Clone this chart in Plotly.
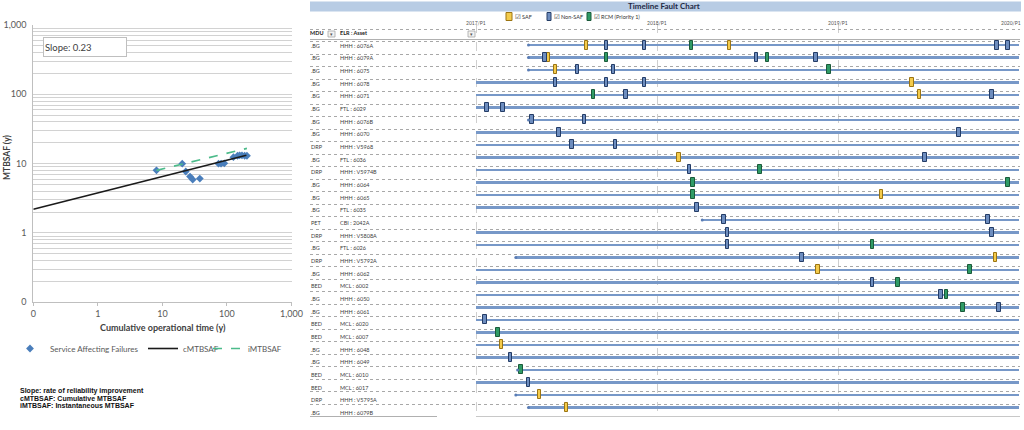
import plotly.graph_objects as go

W, H = 1024, 430


def fx(p):
    return p / W


def fy(p):
    return 1 - p / H


FONT = "Lato, 'Liberation Sans', sans-serif"

# ---------------- Left chart data (reliability growth, log-log) ----------------
saf_time = [8.1, 20.3, 23.0, 26.8, 29.5, 38.0, 74.0, 81.0, 91.0, 126.0, 146.0, 157.0, 171.0, 188.0, 204.0]
saf_mtbsaf = [8.0, 10.0, 7.7, 6.5, 5.9, 6.1, 10.0, 10.0, 10.1, 12.4, 13.0, 13.2, 13.2, 13.0, 13.0]
cmtbsaf_time = [0.1, 200.0]
cmtbsaf_value = [2.2, 13.2]
imtbsaf_time = [8.1, 204.0]
imtbsaf_value = [8.0, 16.6]
slope_value = 0.23
log_ticks = [0.1, 1, 10, 100, 1000]
log_tick_labels = ["0", "1", "10", "100", "1,000"]
notes = ["Slope: rate of reliability improvement",
         "cMTBSAF: Cumulative MTBSAF",
         "iMTBSAF: Instantaneous MTBSAF"]

# ---------------- Right chart data (timeline fault chart) ----------------
mdu = [".BG", ".BG", ".BG", ".BG", ".BG", ".BG", ".BG", ".BG", "DRP", ".BG",
       "DRP", ".BG", ".BG", ".BG", "PET", "DRP", ".BG", "DRP", ".BG", "BED",
       ".BG", ".BG", "BED", "BED", ".BG", ".BG", "BED", "BED", "DRP", ".BG"]
assets = ["HHH : 6076A", "HHH : 6079A", "HHH : 6075", "HHH : 6078", "HHH : 6071",
          "FTL : 6029", "HHH : 6076B", "HHH : 6070", "HHH : V5968", "FTL : 6036",
          "HHH : V5974B", "HHH : 6064", "HHH : 6065", "FTL : 6035", "CBI : 2042A",
          "HHH : V5808A", "FTL : 6026", "HHH : V5792A", "HHH : 6062", "MCL : 6002",
          "HHH : 6050", "HHH : 6061", "MCL : 6020", "MCL : 6007", "HHH : 6048",
          "HHH : 6049", "MCL : 6010", "MCL : 6017", "HHH : V5795A", "HHH : 6079B"]
obs_start = [2017.29, 2017.29, 2017.29, 2017.0, 2017.0, 2017.0, 2017.29, 2017.0, 2017.0, 2017.0,
             2017.0, 2017.0, 2017.0, 2017.0, 2018.25, 2017.0, 2017.0, 2017.22, 2017.0, 2017.0,
             2017.0, 2017.0, 2017.0, 2017.0, 2017.0, 2017.0, 2017.23, 2017.0, 2017.22, 2017.29]
obs_end = 2020.0

saf_rows = [0, 0, 1, 2, 3, 4, 9, 12, 17, 18, 24, 28, 29]
saf_times = [2017.61, 2018.40, 2017.40, 2017.44, 2019.41, 2019.45, 2018.12, 2019.24,
             2019.87, 2018.89, 2017.14, 2017.35, 2017.50]
nonsaf_rows = [0, 0, 0, 0, 1, 1, 1, 2, 2, 3, 3, 3, 4, 4, 5, 5, 6, 6, 7, 7, 8, 8, 9, 10,
               13, 14, 14, 15, 15, 16, 17, 19, 20, 21, 22, 25, 27]
nonsaf_times = [2017.72, 2017.93, 2019.88, 2019.94, 2017.38, 2018.55, 2018.88, 2017.56, 2017.76,
                2017.44, 2017.72, 2017.93, 2017.83, 2019.85, 2017.06, 2017.15, 2017.31, 2017.60,
                2017.46, 2019.67, 2017.53, 2017.77, 2019.48, 2018.18, 2018.22, 2018.37, 2019.83,
                2018.39, 2019.85, 2018.39, 2018.80, 2019.19, 2019.57, 2019.89, 2017.05, 2017.19,
                2017.29]
rcm_rows = [0, 1, 1, 2, 4, 10, 11, 11, 12, 16, 18, 19, 20, 21, 23, 26]
rcm_times = [2018.19, 2017.72, 2018.61, 2018.95, 2017.65, 2018.57, 2018.20, 2019.94, 2018.20,
             2019.19, 2019.73, 2019.33, 2019.60, 2019.69, 2017.12, 2017.25]

categories = ["SAF", "Non-SAF", "RCM (Priority 1)"]
cat_fill = ["#f3cb4c", "#6d8dbf", "#2f9b66"]
cat_edge = ["#9c7512", "#243c66", "#1b5a3a"]
period_ticks = [2017, 2018, 2019, 2020]
period_labels = ["2017/P1", "2018/P1", "2019/P1", "2020/P1"]

fig = go.Figure()

# ---------------- Left chart traces ----------------
fig.add_trace(go.Scatter(
    x=saf_time, y=saf_mtbsaf, mode="markers", name="Service Affecting Failures",
    marker=dict(symbol="diamond", size=6, color="#4a7ebb"),
    xaxis="x", yaxis="y", legendwidth=88))
fig.add_trace(go.Scatter(
    x=cmtbsaf_time, y=cmtbsaf_value, mode="lines", name="cMTBSAF",
    line=dict(color="#1a1a1a", width=1.6), xaxis="x", yaxis="y", legendwidth=20))
fig.add_trace(go.Scatter(
    x=imtbsaf_time, y=imtbsaf_value, mode="lines", name="iMTBSAF",
    line=dict(color="#4cbb8a", width=1.6, dash="dash"), xaxis="x", yaxis="y",
    legendwidth=40))

# ---------------- Right chart traces ----------------
rows = list(range(len(assets)))
fig.add_trace(go.Bar(
    orientation="h", y=rows, x=[obs_end - s for s in obs_start], base=obs_start,
    width=0.17, marker=dict(color="#7798c8", line=dict(width=0)),
    xaxis="x2", yaxis="y2", showlegend=False, hoverinfo="skip"))

EV_W = 0.02
for name, r, t, fc, ec in zip(categories,
                              [saf_rows, nonsaf_rows, rcm_rows],
                              [saf_times, nonsaf_times, rcm_times],
                              cat_fill, cat_edge):
    fig.add_trace(go.Bar(
        orientation="h", y=r, x=[EV_W] * len(t), base=[v - EV_W / 2 for v in t],
        width=0.72, marker=dict(color=fc, line=dict(color=ec, width=1)),
        name=name, xaxis="x2", yaxis="y2", showlegend=False))

late = [i for i, s in enumerate(obs_start) if s > period_ticks[0]]
fig.add_trace(go.Scatter(
    x=[obs_start[i] for i in late], y=late, mode="markers",
    marker=dict(size=3, color="#5a7db5"), xaxis="x2", yaxis="y2",
    showlegend=False, hoverinfo="skip"))

# ---------------- Axes ----------------
minor_vals, minor_text = [], []
for d in range(-1, 3):
    for k in range(1, 10):
        minor_vals.append(k * 10 ** d)
        minor_text.append(log_tick_labels[d + 1] if k == 1 else "")
minor_vals.append(log_ticks[-1])
minor_text.append(log_tick_labels[-1])

axis_font = dict(family=FONT, size=9, color="#595959")
PX_PER_YEAR = 181.0
x2_left = period_ticks[0] - (476 - 310) / PX_PER_YEAR
x2_right = period_ticks[0] + (1020 - 476) / PX_PER_YEAR

fig.update_layout(
    width=W, height=H, margin=dict(l=0, r=0, t=0, b=0, pad=0, autoexpand=False),
    paper_bgcolor="white", plot_bgcolor="white",
    barmode="overlay", bargap=0,
    font=dict(family=FONT),
    xaxis=dict(domain=[fx(33.3), fx(291.5)], type="log", range=[-1, 3], anchor="y",
               tickvals=log_ticks, ticktext=log_tick_labels, showgrid=False,
               showline=True, linecolor="#bfbfbf", ticks="outside", ticklen=3,
               tickcolor="#bfbfbf", tickfont=axis_font, zeroline=False, automargin=False),
    yaxis=dict(domain=[fy(302.3), fy(25)], type="log", range=[-1, 3], anchor="x",
               tickvals=minor_vals, ticktext=minor_text, showgrid=True,
               gridcolor="#d2d2d2", gridwidth=1, showline=True, linecolor="#bfbfbf",
               ticks="outside", ticklen=4, tickcolor="rgba(0,0,0,0)",
               tickfont=axis_font, zeroline=False, automargin=False),
    xaxis2=dict(domain=[fx(310), fx(1020)], range=[x2_left, x2_right], anchor="y2",
                tickvals=period_ticks, showticklabels=False, showgrid=True,
                griddash="dash", gridcolor="#cfcfcf", gridwidth=1, zeroline=False,
                showline=False, ticks="", automargin=False),
    yaxis2=dict(domain=[fy(416.7), fy(24)], range=[29.74, -1.68], anchor="x2",
                tickmode="linear", tick0=0.74, dtick=1, showticklabels=False,
                showgrid=True, griddash="dot", gridcolor="#a8a8a8", gridwidth=1,
                zeroline=False, showline=False, ticks="", automargin=False),
    legend=dict(orientation="h", x=fx(10), y=fy(348.5), xanchor="left", yanchor="middle",
                font=dict(family=FONT, size=8, color="#595959"),
                bgcolor="rgba(0,0,0,0)", itemwidth=30, tracegroupgap=0),
)

shapes = []
annotations = []


def note(text, x, y, size, color="#404040", xanchor="left", family=FONT, **kw):
    d = dict(text=text, xref="paper", yref="paper", x=fx(x), y=fy(y), xanchor=xanchor,
             yanchor="middle", showarrow=False, font=dict(family=family, size=size, color=color))
    d.update(kw)
    annotations.append(d)


# Left chart texts
annotations.append(dict(
    text=f"Slope: {slope_value:.2f}", xref="paper", yref="paper", x=fx(43), y=fy(37),
    xanchor="left", yanchor="top", width=80, height=16, align="left",
    showarrow=False, bordercolor="#bfbfbf", borderwidth=1, borderpad=1, bgcolor="white",
    font=dict(family=FONT, size=9.5, color="#404040")))
note("<b>MTBSAF (y)</b>", 7, 158, 8.5, xanchor="center", textangle=-90)
note("<b>Cumulative operational time (y)</b>", 163, 327, 9, xanchor="center")
for k, line in enumerate(notes):
    note(f"<b>{line}</b>", 18, 391 + 7.2 * k, 7, color="#111111",
         family="'Liberation Sans', sans-serif")

# Right chart: title bar
shapes.append(dict(type="rect", xref="paper", yref="paper", x0=fx(310), x1=fx(1021),
                   y0=fy(11.5), y1=fy(1.5), fillcolor="#b8cce4", line=dict(width=0),
                   layer="below"))
note("<b>Timeline Fault Chart</b>", 664, 6.5, 8, color="#1f2a44", xanchor="center")

# Right chart: legend (swatch + checkbox + label)
legend_x = [506, 547, 587]
swatch_w = [6, 4, 4]
for cx, sw, name, fc, ec in zip(legend_x, swatch_w, categories, cat_fill, cat_edge):
    shapes.append(dict(type="rect", xref="paper", yref="paper", x0=fx(cx), x1=fx(cx + sw),
                       y0=fy(20.5), y1=fy(12.5), fillcolor=fc, line=dict(color=ec, width=1)))
    note("\u2611", cx + sw + 0.5, 16.5, 6.5, color="#333333", family="'DejaVu Sans'")
    note(name, cx + sw + 8, 16.5, 5.5, color="#333333")

# Period labels (last one kept inside the page edge)
for t, lab in zip(period_ticks, period_labels):
    last = t == period_ticks[-1]
    annotations.append(dict(
        text=lab, xref="x2", yref="paper", x=t, y=fy(23),
        xanchor="right" if last else "center", xshift=4 if last else 0,
        yanchor="middle", showarrow=False, font=dict(family=FONT, size=5, color="#555555")))

# Header row
note("<b>MDU</b>", 308, 33.5, 5.5, color="#222222")
note("<b>ELR : Asset</b>", 338, 33.5, 5.5, color="#222222")
for bx in [328, 468]:
    shapes.append(dict(type="rect", xref="paper", yref="paper", x0=fx(bx), x1=fx(bx + 7),
                       y0=fy(37), y1=fy(31), fillcolor="#f2f2f2",
                       line=dict(color="#a6a6a6", width=0.8)))
    note("\u25be", bx + 3.5, 34, 5, color="#555555", xanchor="center", family="'DejaVu Sans'")
shapes.append(dict(type="line", xref="paper", yref="paper", x0=fx(310), x1=fx(1020),
                   y0=fy(39.5), y1=fy(39.5), line=dict(color="#b0b0b0", width=1)))

# Row labels
for i, (m, a) in enumerate(zip(mdu, assets)):
    ypx = 45.7 + 12.66 * i
    note(m, 309, ypx, 5.5)
    note(a, 338, ypx, 5.5)

# Bottom borders
shapes.append(dict(type="line", xref="paper", yref="paper", x0=fx(310), x1=fx(437),
                   y0=fy(416.5), y1=fy(416.5), line=dict(color="#b0b0b0", width=1)))
shapes.append(dict(type="line", xref="paper", yref="paper", x0=fx(476), x1=fx(1020),
                   y0=fy(416.5), y1=fy(416.5), line=dict(color="#c8c8c8", width=1)))

fig.update_layout(shapes=shapes, annotations=annotations)

page_fix = """
document.body.style.margin='0';
document.body.style.padding='0';
document.documentElement.style.overflow='hidden';
var gd=document.getElementsByClassName('plotly-graph-div')[0];
gd.style.position='fixed';gd.style.left='0px';gd.style.top='0px';
"""
fig.write_html("out.html", config={"displayModeBar": False}, post_script=page_fix)
